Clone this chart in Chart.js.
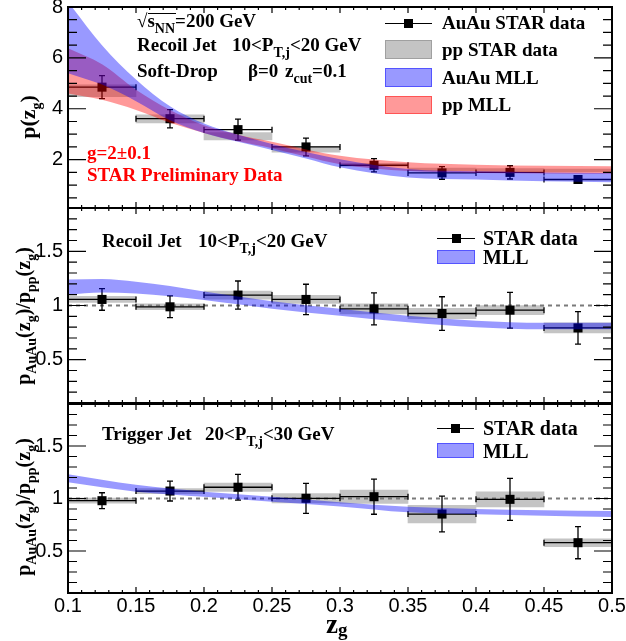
<!DOCTYPE html>
<html>
<head>
<meta charset="utf-8">
<script src="https://cdn.jsdelivr.net/npm/chart.js@4.4.1/dist/chart.umd.min.js"></script>
<style>
body { margin: 0; background: #fff; }
#wrap { position: relative; width: 626px; height: 641px; overflow: hidden;
  font-family: "Liberation Serif", "Times New Roman", serif; font-weight: bold; color: #000; }
canvas { position: absolute; left: 0; top: 0; }
.t { position: absolute; white-space: nowrap; font-size: 19px; line-height: 19px; }
.lg { position: absolute; white-space: nowrap; font-size: 20px; line-height: 20px; }
.t sub, .lg sub, .yt sub, .xt sub { font-size: 14px; line-height: 0; vertical-align: -6px; }
.red { color: #ff0000; }
.yt { position: absolute; white-space: nowrap; transform: translate(-50%, -50%) rotate(-90deg); line-height: 22px; }
.xt { position: absolute; white-space: nowrap; font-size: 27px; line-height: 27px; }
.swl { position: absolute; height: 0; border-top: 1.5px solid #000; }
.sws { position: absolute; width: 9px; height: 9px; background: #000; }
.swb { position: absolute; box-sizing: border-box; border: 1.5px solid; }
</style>
</head>
<body>
<div id="wrap">
  <canvas id="top" width="626" height="641"></canvas>
  <canvas id="mid" width="626" height="641"></canvas>
  <canvas id="bot" width="626" height="641"></canvas>

  <!-- top panel texts -->
  <div class="t" style="left:137px;top:11px">√<span>s<sub>NN</sub></span>=200 GeV</div>
  <div style="position:absolute;left:148px;top:13px;width:28px;border-top:1.5px solid #000"></div>
  <div class="t" style="left:137px;top:35px">Recoil Jet</div>
  <div class="t" style="left:232px;top:35px">10&lt;P<sub>T,j</sub>&lt;20 GeV</div>
  <div class="t" style="left:137px;top:61px">Soft-Drop</div>
  <div class="t" style="left:248px;top:61px">β=0</div>
  <div class="t" style="left:285px;top:61px">z<sub>cut</sub>=0.1</div>
  <div class="t red" style="left:87px;top:143px">g=2±0.1</div>
  <div class="t red" style="left:87px;top:165px">STAR Preliminary Data</div>

  <div class="swl" style="left:385px;top:23px;width:47px"></div>
  <div class="sws" style="left:404px;top:19px"></div>
  <div class="swb" style="left:385px;top:40px;width:47px;height:19px;background:#c4c4c4;border-color:#a0a0a0"></div>
  <div class="swb" style="left:385px;top:68px;width:47px;height:19px;background:rgba(0,0,255,0.4);border-color:rgba(0,0,255,0.45)"></div>
  <div class="swb" style="left:385px;top:96px;width:47px;height:18px;background:rgba(255,0,0,0.4);border-color:rgba(255,0,0,0.45)"></div>
  <div class="t" style="left:442px;top:13px">AuAu STAR data</div>
  <div class="t" style="left:442px;top:40px">pp STAR data</div>
  <div class="t" style="left:442px;top:68px">AuAu MLL</div>
  <div class="t" style="left:442px;top:95px">pp MLL</div>

  <!-- middle panel texts -->
  <div class="t" style="left:102px;top:231px">Recoil Jet</div>
  <div class="t" style="left:198px;top:231px">10&lt;P<sub>T,j</sub>&lt;20 GeV</div>
  <div class="swl" style="left:437px;top:238px;width:38px"></div>
  <div class="sws" style="left:452px;top:234px"></div>
  <div class="swb" style="left:437px;top:250px;width:38px;height:14px;background:rgba(0,0,255,0.4);border-color:rgba(0,0,255,0.45)"></div>
  <div class="lg" style="left:483px;top:228px">STAR data</div>
  <div class="lg" style="left:483px;top:247px">MLL</div>

  <!-- bottom panel texts -->
  <div class="t" style="left:102px;top:424px">Trigger Jet</div>
  <div class="t" style="left:205px;top:424px">20&lt;P<sub>T,j</sub>&lt;30 GeV</div>
  <div class="swl" style="left:437px;top:428px;width:37px"></div>
  <div class="sws" style="left:451px;top:424px"></div>
  <div class="swb" style="left:437px;top:443px;width:37px;height:15px;background:rgba(0,0,255,0.4);border-color:rgba(0,0,255,0.45)"></div>
  <div class="lg" style="left:483px;top:418px">STAR data</div>
  <div class="lg" style="left:483px;top:441px">MLL</div>

  <!-- axis titles -->
  <div class="yt" style="left:28px;top:117px;font-size:22px">p(z<sub>g</sub>)</div>
  <div class="yt" style="left:23px;top:316px;font-size:20px">p<sub>AuAu</sub>(z<sub>g</sub>)/p<sub>pp</sub>(z<sub>g</sub>)</div>
  <div class="yt" style="left:23px;top:507px;font-size:20px">p<sub>AuAu</sub>(z<sub>g</sub>)/p<sub>pp</sub>(z<sub>g</sub>)</div>
  <div class="xt" style="left:326px;top:611px">z<sub style="font-size:19px;vertical-align:-3px">g</sub></div>
</div>

<script>
// z_g bins (bin centres, half width)
const zgCenters = [0.125, 0.175, 0.225, 0.275, 0.325, 0.375, 0.425, 0.475];
const binHalfWidth = 0.025;

// top panel: p(z_g)
const auauP    = [4.85, 3.61, 3.18, 2.50, 1.78, 1.48, 1.50, 1.22];
const auauPErr = [0.45, 0.36, 0.41, 0.35, 0.26, 0.25, 0.26, 0.08];
const ppP      = [4.71, 3.60, 2.92, 2.40, 1.80, 1.62, 1.60, 1.58];
const ppPSys   = [0.23, 0.16, 0.14, 0.11, 0.06, 0.05, 0.05, 0.05];

// MLL bands (edges)
const mllZg     = [0.1, 0.125, 0.15, 0.175, 0.2, 0.225, 0.25, 0.275, 0.3, 0.35, 0.4, 0.45, 0.5];
const auauMllHi = [8.2, 6.5, 5.15, 4.1, 3.42, 2.98, 2.62, 2.3, 2.02, 1.63, 1.54, 1.5, 1.48];
const auauMllLo = [5.4, 4.95, 4.3, 3.55, 3.05, 2.7, 2.38, 2.05, 1.7, 1.3, 1.22, 1.15, 1.11];
const ppMllHi   = [6.38, 5.75, 4.75, 3.95, 3.35, 2.98, 2.7, 2.4, 2.15, 1.9, 1.8, 1.76, 1.74];
const ppMllLo   = [4.6, 4.35, 3.95, 3.45, 3.05, 2.72, 2.45, 2.12, 1.82, 1.55, 1.48, 1.46, 1.45];

// middle panel: recoil jet ratio
const recoilRatio    = [1.056, 0.988, 1.096, 1.056, 0.969, 0.926, 0.957, 0.793];
const recoilRatioErr = [0.10, 0.10, 0.13, 0.14, 0.147, 0.155, 0.165, 0.15];
const recoilRatioSys = [0.028, 0.027, 0.037, 0.037, 0.047, 0.047, 0.042, 0.047];
const recoilMllZg = [0.1, 0.125, 0.15, 0.175, 0.2, 0.25, 0.3, 0.35, 0.4, 0.45, 0.5];
const recoilMllHi = [1.24, 1.245, 1.22, 1.18, 1.13, 1.04, 0.97, 0.905, 0.86, 0.84, 0.84];
const recoilMllLo = [1.10, 1.12, 1.11, 1.085, 1.05, 0.97, 0.905, 0.845, 0.80, 0.78, 0.78];

// bottom panel: trigger jet ratio
const triggerRatio    = [0.979, 1.071, 1.107, 1.002, 1.017, 0.852, 0.992, 0.579];
const triggerRatioErr = [0.076, 0.095, 0.122, 0.143, 0.167, 0.17, 0.2, 0.153];
const triggerRatioSys = [0.024, 0.024, 0.04, 0.045, 0.063, 0.084, 0.072, 0.037];
const triggerMllZg = [0.1, 0.15, 0.2, 0.25, 0.3, 0.35, 0.4, 0.45, 0.5];
const triggerMllHi = [1.23, 1.13, 1.065, 1.017, 0.965, 0.922, 0.9, 0.888, 0.881];
const triggerMllLo = [1.154, 1.065, 1.017, 0.97, 0.925, 0.869, 0.85, 0.836, 0.824];

// unity reference
const unityZg = [0.1, 0.5];
const unityY  = [1, 1];

// axis ticks
const xTicks = [0.1, 0.15, 0.2, 0.25, 0.3, 0.35, 0.4, 0.45, 0.5];
const xTickLabels = ['0.1', '0.15', '0.2', '0.25', '0.3', '0.35', '0.4', '0.45', '0.5'];
const topYTicks = [2, 4, 6, 8];
const topYTickLabels = ['2', '4', '6', '8'];
const ratioYTicks = [0.5, 1, 1.5];
const ratioYTickLabels = ['0.5', '1', '1.5'];

const BLUE = 'rgba(0,0,255,0.4)';
const RED = 'rgba(255,0,0,0.4)';
const GREY = '#c4c4c4';

//ROOT style frame: box around the pad plus inward ticks on every side
const rootFrame = {
    id: 'rootFrame',
    afterDatasetsDraw(chart, args, opts) {
        const ctx = chart.ctx, a = chart.chartArea;
        const xs = chart.scales.x, ys = chart.scales.y;
        ctx.save();
        ctx.strokeStyle = '#000';
        ctx.lineWidth = 1.2;
        ctx.beginPath();
        const nx = Math.round((xs.max - xs.min) / opts.xMinor);
        for (let k = 0; k <= nx; k++) {
            const v = xs.min + k * opts.xMinor;
            const major = Math.abs(Math.round(v / opts.xMajor) * opts.xMajor - v) < 1e-6;
            const len = major ? opts.xLen : opts.xLen / 2;
            const px = xs.getPixelForValue(v);
            ctx.moveTo(px, a.bottom); ctx.lineTo(px, a.bottom - len);
            ctx.moveTo(px, a.top); ctx.lineTo(px, a.top + len);
        }
        const y0 = Math.ceil(ys.min / opts.yMinor - 1e-6);
        const y1 = Math.floor(ys.max / opts.yMinor + 1e-6);
        for (let k = y0; k <= y1; k++) {
            const v = k * opts.yMinor;
            const major = Math.abs(Math.round(v / opts.yMajor) * opts.yMajor - v) < 1e-6;
            const len = major ? opts.yLen : opts.yLen / 2;
            const py = ys.getPixelForValue(v);
            ctx.moveTo(a.left, py); ctx.lineTo(a.left + len, py);
            ctx.moveTo(a.right, py); ctx.lineTo(a.right - len, py);
        }
        ctx.stroke();
        ctx.lineWidth = 2;
        ctx.strokeRect(a.left, a.top, a.right - a.left, a.bottom - a.top);
        ctx.restore();
    }
};

//error bars for datasets that carry errY, drawn just under their markers
const errorBars = {
    id: 'errorBars',
    beforeDatasetDraw(chart, args) {
        const ds = chart.data.datasets[args.index];
        if (!ds.errY) return;
        const ctx = chart.ctx, xs = chart.scales.x, ys = chart.scales.y;
        const a = chart.chartArea;
        ctx.save();
        ctx.beginPath();
        ctx.rect(a.left, a.top, a.right - a.left, a.bottom - a.top);
        ctx.clip();
        ctx.strokeStyle = '#000';
        ctx.lineWidth = 1.3;
        ctx.beginPath();
        ds.data.forEach((p, i) => {
            const px = xs.getPixelForValue(p.x), py = ys.getPixelForValue(p.y);
            const xl = xs.getPixelForValue(p.x - ds.errX), xr = xs.getPixelForValue(p.x + ds.errX);
            const yl = ys.getPixelForValue(p.y - ds.errY[i]), yh = ys.getPixelForValue(p.y + ds.errY[i]);
            ctx.moveTo(xl, py); ctx.lineTo(xr, py);
            ctx.moveTo(xl, py - 3); ctx.lineTo(xl, py + 3);
            ctx.moveTo(xr, py - 3); ctx.lineTo(xr, py + 3);
            ctx.moveTo(px, yl); ctx.lineTo(px, yh);
            ctx.moveTo(px - 3, yl); ctx.lineTo(px + 3, yl);
            ctx.moveTo(px - 3, yh); ctx.lineTo(px + 3, yh);
        });
        ctx.stroke();
        ctx.restore();
    }
};

function points(xv, yv) {
    return xv.map((x, i) => ({x: x, y: yv[i]}));
}

function bandDatasets(xv, lo, hi, color) {
    const line = {type: 'line', borderWidth: 0, borderColor: 'transparent', pointRadius: 0,
        cubicInterpolationMode: 'monotone', order: 0};
    return [
        Object.assign({data: points(xv, lo), fill: false}, line),
        Object.assign({data: points(xv, hi), fill: '-1', backgroundColor: color}, line)
    ];
}

function markerDataset(yv, err) {
    return {type: 'scatter', data: points(zgCenters, yv), pointStyle: 'rect', pointRadius: 6.4,
        backgroundColor: '#000', borderWidth: 0, errY: err, errX: binHalfWidth, order: 1};
}

function boxDataset(centre, half) {
    return {type: 'bar', data: zgCenters.map((x, i) => ({x: x, y: [centre[i] - half[i], centre[i] + half[i]]})),
        backgroundColor: GREY, borderWidth: 0, barPercentage: 1, categoryPercentage: 1,
        grouped: false, order: 3};
}

function unityDataset() {
    return {type: 'line', data: points(unityZg, unityY), borderColor: '#7a7a7a', borderWidth: 2,
        borderDash: [4, 4], pointRadius: 0, fill: false, order: 2};
}

function drawPanel(id, datasets, y, padTop, padBottom, showX) {
    const tickFont = {family: 'Liberation Sans', size: 20};
    new Chart(document.getElementById(id), {
        type: 'scatter',
        data: {datasets: datasets},
        plugins: [rootFrame, errorBars],
        options: {
            responsive: false,
            animation: false,
            events: [],
            layout: {padding: {left: 0, right: 14, top: padTop, bottom: padBottom}},
            plugins: {
                legend: {display: false},
                tooltip: {enabled: false},
                rootFrame: {xMajor: 0.05, xMinor: 0.01, xLen: 6, yMajor: y.major, yMinor: y.minor, yLen: 18}
            },
            scales: {
                x: {
                    type: 'linear', min: 0.1, max: 0.5, offset: false, display: showX,
                    afterBuildTicks: s => { s.ticks = xTicks.map(v => ({value: v})); },
                    afterFit: s => {
                        if (!showX) return;
                        s.height = 30; s.paddingLeft = 0; s.paddingRight = 0;
                    },
                    grid: {display: false, drawTicks: false},
                    border: {display: false},
                    ticks: {
                        autoSkip: false, maxRotation: 0, padding: 1, color: '#000',
                        font: tickFont,
                        callback: (v, i) => xTickLabels[i]
                    }
                },
                y: {
                    type: 'linear', min: y.min, max: y.max,
                    afterBuildTicks: s => { s.ticks = y.ticks.map(v => ({value: v})); },
                    afterFit: s => { s.width = 68; s.paddingTop = 0; s.paddingBottom = 0; },
                    grid: {display: false, drawTicks: false},
                    border: {display: false},
                    ticks: {padding: 5, color: '#000', font: tickFont, callback: (v, i) => y.labels[i]}
                }
            }
        }
    });
}

drawPanel('top', [
    ...bandDatasets(mllZg, auauMllLo, auauMllHi, BLUE),
    ...bandDatasets(mllZg, ppMllLo, ppMllHi, RED),
    markerDataset(auauP, auauPErr),
    boxDataset(ppP, ppPSys)
], {min: 0.1, max: 8, major: 2, minor: 0.5, ticks: topYTicks, labels: topYTickLabels}, 7, 641 - 208, false);

drawPanel('mid', [
    ...bandDatasets(recoilMllZg, recoilMllLo, recoilMllHi, BLUE),
    markerDataset(recoilRatio, recoilRatioErr),
    unityDataset(),
    boxDataset(recoilRatio, recoilRatioSys)
], {min: 0.1, max: 1.9, major: 0.5, minor: 0.1, ticks: ratioYTicks, labels: ratioYTickLabels}, 208, 641 - 403, false);

drawPanel('bot', [
    ...bandDatasets(triggerMllZg, triggerMllLo, triggerMllHi, BLUE),
    markerDataset(triggerRatio, triggerRatioErr),
    unityDataset(),
    boxDataset(triggerRatio, triggerRatioSys)
], {min: 0.1, max: 1.9, major: 0.5, minor: 0.1, ticks: ratioYTicks, labels: ratioYTickLabels}, 404, 641 - 593 - 30, true);
</script>
</body>
</html>
